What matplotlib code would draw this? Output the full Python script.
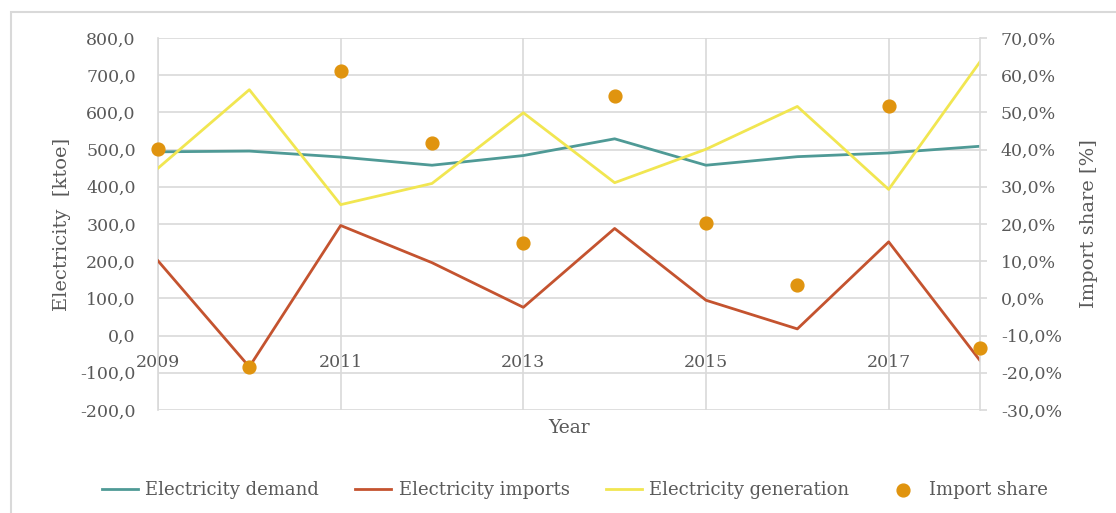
import matplotlib.pyplot as plt
from matplotlib.patches import Rectangle
from matplotlib.ticker import FuncFormatter

# data
years = [2009, 2010, 2011, 2012, 2013, 2014, 2015, 2016, 2017, 2018]
demand = [494, 496, 480, 458, 484, 529, 458, 481, 491, 509]
imports = [201, -84, 296, 196, 76, 288, 95, 18, 252, -67]
generation = [450, 661, 352, 409, 599, 411, 501, 616, 393, 736]
import_share = [40.1, -18.4, 61.2, 41.9, 15.0, 54.4, 20.4, 3.6, 51.7, -13.4]

year_ticks = [2009, 2011, 2013, 2015, 2017]
left_ticks = list(range(-200, 801, 100))
right_ticks = list(range(-30, 71, 10))

txt = "#595959"
grid = "#d9d9d9"
plt.rcParams['font.family'] = ['DejaVu Serif']

fig = plt.figure(figsize=(11.16, 5.13), dpi=100)
ax = fig.add_axes([158 / 1116, 1 - 410 / 513, 822 / 1116, 372 / 513])

ax.plot(years, demand, color="#4f9a96", linewidth=2.0, label="Electricity demand", zorder=3)
ax.plot(years, imports, color="#c4532f", linewidth=2.0, label="Electricity imports", zorder=3)
ax.plot(years, generation, color="#f1e651", linewidth=2.0, label="Electricity generation", zorder=3)

ax.set_xlim(2009, 2018)
ax.set_ylim(-200, 800)
ax.set_yticks(left_ticks)
ax.set_xticks(year_ticks)
ax.yaxis.set_major_formatter(FuncFormatter(lambda v, p: f"{v:.1f}".replace(".", ",")))
ax.grid(True, color=grid, linewidth=1.2)
ax.set_axisbelow(True)

# x tick labels sit just under the zero line
ax.spines['bottom'].set_position(('data', 0))
for s in ['bottom', 'top', 'right']:
    ax.spines[s].set_visible(False)
ax.spines['left'].set_color(grid)
ax.spines['left'].set_linewidth(1.2)
ax.tick_params(axis='x', length=0, pad=13, labelsize=12.5, labelcolor=txt)
ax.tick_params(axis='y', length=0, pad=16, labelsize=12.5, labelcolor=txt)
ax.set_xlabel("Year", fontsize=13.5, color=txt)
ax.xaxis.set_label_coords(0.5, -0.025)
ax.set_ylabel("Electricity  [ktoe]", fontsize=14, color=txt, labelpad=7)

ax2 = ax.twinx()
ax2.scatter(years, import_share, s=85, color="#e0940f", label="Import share", zorder=4, clip_on=False)
ax2.set_ylim(-30, 70)
ax2.set_yticks(right_ticks)
ax2.yaxis.set_major_formatter(FuncFormatter(lambda v, p: f"{v:.1f}%".replace(".", ",")))
for s in ['bottom', 'top', 'left']:
    ax2.spines[s].set_visible(False)
ax2.spines['right'].set_color(grid)
ax2.spines['right'].set_linewidth(1.2)
ax2.tick_params(axis='y', length=5, width=1.2, color=grid, pad=10, labelsize=12.5, labelcolor=txt)
ax2.set_ylabel("Import share [%]", fontsize=14, color=txt, labelpad=13)

h1, l1 = ax.get_legend_handles_labels()
h2, l2 = ax2.get_legend_handles_labels()
fig.legend(h1 + h2, l1 + l2, loc='center', bbox_to_anchor=(0.515, 1 - 490 / 513), ncol=4,
           frameon=False, fontsize=13, labelcolor=txt, handlelength=2.0, handletextpad=0.4,
           columnspacing=2.0)

# light outer border like the chart area frame
fig.patches.append(Rectangle((11 / 1116, -0.05), 1.1, 1 - 12 / 513 + 0.05, transform=fig.transFigure,
                             fill=False, edgecolor=grid, linewidth=1.5))

fig.savefig("out.png", dpi=100)
